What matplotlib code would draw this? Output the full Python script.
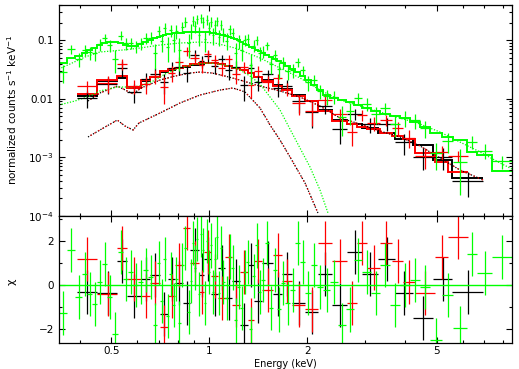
import numpy as np
import matplotlib
matplotlib.use("Agg")
import matplotlib.pyplot as plt
from matplotlib.ticker import FixedLocator, FixedFormatter, NullFormatter

# ---------------- data ----------------
# green data set
g_edges = [0.3446, 0.3654, 0.3867, 0.4063, 0.4209, 0.4361, 0.4519, 0.4683, 0.4851, 0.5026,
           0.5244, 0.5432, 0.5628, 0.5831, 0.6040, 0.6257, 0.6482, 0.6716, 0.6909, 0.7057,
           0.7208, 0.7362, 0.7520, 0.7681, 0.7845, 0.8013, 0.8184, 0.8359, 0.8541, 0.8725,
           0.8849, 0.8975, 0.9101, 0.9232, 0.9363, 0.9497, 0.9632, 0.9770, 0.9908, 1.0050,
           1.0193, 1.0337, 1.0486, 1.0634, 1.0787, 1.0939, 1.1174, 1.1415, 1.1660, 1.1910,
           1.2165, 1.2426, 1.2692, 1.2964, 1.3243, 1.3527, 1.3817, 1.4113, 1.4416, 1.4829,
           1.5255, 1.5692, 1.6143, 1.6607, 1.7084, 1.7700, 1.8337, 1.8998, 1.9679, 2.0532,
           2.1424, 2.2352, 2.3486, 2.4855, 2.6303, 2.7836, 2.9458, 3.1390, 3.3450, 3.5904,
           3.8539, 4.1365, 4.4400, 4.7643, 5.1858, 5.6081, 6.1894, 6.6438, 7.3858, 8.5112]
g_model = [0.0409, 0.0498, 0.0539, 0.0606, 0.0683, 0.0738, 0.0831, 0.0899, 0.0935, 0.0935,
           0.0899, 0.0831, 0.0799, 0.0799, 0.0864, 0.0935, 0.1012, 0.1095, 0.1138, 0.1184,
           0.1232, 0.1281, 0.1307, 0.1333, 0.1333, 0.1360, 0.1360, 0.1387, 0.1387, 0.1387,
           0.1387, 0.1414, 0.1414, 0.1414, 0.1414, 0.1387, 0.1387, 0.1387, 0.1387, 0.1360,
           0.1333, 0.1333, 0.1307, 0.1281, 0.1256, 0.1232, 0.1184, 0.1138, 0.1095, 0.1052,
           0.1012, 0.0935, 0.0882, 0.0831, 0.0783, 0.0738, 0.0696, 0.0656, 0.0606, 0.0561,
           0.0518, 0.0479, 0.0443, 0.0409, 0.0363, 0.0323, 0.0287, 0.0245, 0.0209, 0.0171,
           0.0141, 0.0116, 0.0103, 0.00953, 0.00881, 0.00782, 0.00695, 0.00618, 0.00549, 0.00507,
           0.00469, 0.00401, 0.00329, 0.00260, 0.00222, 0.00197, 0.00123, 0.00109, 0.000582]
g_chi = [-1.26, 1.6, -0.53, 0.5, -0.4, -0.85, 0.14, 0.95, -0.53, -2.2,
         1.5, 0.28, 0.6, 0.0, 0.15, 0.7, 0.38, -1.8, 1.0, -0.7,
         1.2, -1.4, 0.5, -0.9, 0.3, -1.7, 0.9, 1.7, -1.2, 0.2,
         1.9, 0.8, 2.1, -0.4, 2.3, 1.6, -0.8, 2.0, 0.6, 1.8,
         -0.3, 1.2, 2.2, -0.35, 1.7, 0.15, -0.6, 1.3, 0.8, -1.6,
         -0.1, -1.05, 0.6, 1.05, -2.0, 0.4, 1.8, -0.3, 0.24, 1.9,
         -1.05, 0.7, -1.1, 0.1, -0.8, -0.2, 1.9, 1.05, -0.35, 0.9,
         -0.1, -0.2, 0.15, -1.8, -1.1, 1.15, 0.6, -0.35, 0.9, -0.9,
         0.0, 0.25, -0.1, -2.5, -0.45, -1.95, 1.4, 0.55, 1.27]
g_frac = [0.24, 0.25, 0.23, 0.24, 0.23, 0.22, 0.23, 0.23, 0.22, 0.22,
          0.23, 0.23, 0.24, 0.24, 0.24, 0.24, 0.25, 0.25, 0.26, 0.27,
          0.27, 0.28, 0.27, 0.28, 0.28, 0.29, 0.28, 0.29, 0.29, 0.30,
          0.30, 0.30, 0.30, 0.31, 0.31, 0.30, 0.30, 0.31, 0.30, 0.30,
          0.29, 0.29, 0.29, 0.28, 0.28, 0.28, 0.27, 0.27, 0.27, 0.26,
          0.26, 0.26, 0.25, 0.26, 0.26, 0.26, 0.25, 0.25, 0.25, 0.24,
          0.24, 0.24, 0.24, 0.25, 0.24, 0.25, 0.25, 0.25, 0.26, 0.26,
          0.26, 0.27, 0.26, 0.27, 0.28, 0.28, 0.29, 0.29, 0.29, 0.30,
          0.30, 0.31, 0.31, 0.22, 0.32, 0.30, 0.36, 0.34, 0.36]

# black data set
k_edges = [0.3923, 0.4519, 0.5216, 0.5588, 0.6169, 0.6575, 0.7057, 0.7468, 0.7845, 0.8319,
           0.8725, 0.9298, 0.9632, 1.0121, 1.0634, 1.1174, 1.1740, 1.2426, 1.3149, 1.3720,
           1.4520, 1.5692, 1.6722, 1.7955, 1.9679, 2.1574, 2.3819, 2.6485, 2.9471, 3.3009,
           3.7204, 4.2247, 4.8675, 5.5682, 6.9343]
k_model = [0.0112, 0.0201, 0.0227, 0.0153, 0.0201, 0.0236, 0.0287, 0.0310, 0.0336, 0.0350,
           0.0378, 0.0393, 0.0409, 0.0409, 0.0393, 0.0363, 0.0336, 0.0310, 0.0276, 0.0236,
           0.0209, 0.0171, 0.0147, 0.0116, 0.00916, 0.00643, 0.00433, 0.00370, 0.00316, 0.00260,
           0.00205, 0.00162, 0.000897, 0.000441]
k_chi = [-0.3, -0.35, 1.1, -0.5, 0.3, 0.46, -1.3, 0.3, 0.1, -0.8,
         1.6, 0.46, 1.2, -0.4, 0.8, -0.6, 0.2, -1.8, 0.9, -0.7,
         1.0, -0.4, 0.5, -0.8, -1.2, 0.5, -0.9, 1.5, 0.5, 1.2,
         -0.35, -1.5, 0.3, -0.3]
k_frac = [0.30, 0.30, 0.45, 0.30, 0.30, 0.28, 0.25, 0.28, 0.28, 0.25,
          0.30, 0.27, 0.27, 0.25, 0.25, 0.26, 0.25, 0.25, 0.25, 0.25,
          0.25, 0.27, 0.27, 0.28, 0.30, 0.30, 0.32, 0.33, 0.33, 0.35,
          0.35, 0.25, 0.45, 0.40]

# red data set
r_edges = [0.3923, 0.4519, 0.5216, 0.5588, 0.6169, 0.6575, 0.7057, 0.7468, 0.7845, 0.8319,
           0.8725, 0.9298, 0.9632, 1.0121, 1.0634, 1.1174, 1.1740, 1.2426, 1.3149, 1.3720,
           1.4520, 1.5692, 1.6722, 1.7955, 1.9679, 2.1574, 2.3819, 2.6485, 2.8433, 3.0514,
           3.3450, 3.6416, 3.9372, 4.2855, 4.9363, 5.4137, 6.2337]
r_model = [0.01207, 0.0209, 0.0245, 0.0153, 0.0209, 0.0236, 0.0299, 0.0323, 0.0336, 0.0363,
           0.0393, 0.0409, 0.0417, 0.0417, 0.0401, 0.0363, 0.0336, 0.0310, 0.0276, 0.0236,
           0.0201, 0.0165, 0.0141, 0.0112, 0.00916, 0.00618, 0.00417, 0.00370, 0.00329, 0.00304,
           0.00260, 0.00231, 0.00205, 0.00118, 0.000829, 0.000559]
r_chi = [1.2, -0.4, 1.7, 0.3, -0.5, 0.1, -1.9, -0.5, 0.9, 2.6,
         1.0, -0.3, 1.5, 0.4, -0.6, 1.3, -0.9, 0.6, -1.6, 1.1,
         -0.2, 1.35, 0.2, -0.9, -1.1, 1.9, 1.1, -0.8, 1.9, 0.8,
         1.9, 1.1, 0.15, -0.35, 1.27, 2.2]
r_frac = [0.30, 0.28, 0.35, 0.30, 0.28, 0.27, 0.25, 0.27, 0.27, 0.30,
          0.27, 0.26, 0.26, 0.25, 0.25, 0.25, 0.25, 0.25, 0.24, 0.25,
          0.26, 0.26, 0.27, 0.28, 0.30, 0.30, 0.30, 0.32, 0.32, 0.33,
          0.35, 0.35, 0.35, 0.35, 0.40, 0.40]

# model components (dotted)
gc_e = [0.3446, 0.373, 0.415, 0.461, 0.5432, 0.612, 0.7057, 0.813, 0.936, 1.041, 1.1995,
        1.432, 1.649, 1.900, 2.188, 2.521, 2.904, 3.345, 3.854, 4.440, 5.114, 5.89, 6.79, 7.82, 8.51]
gc_v = [0.0323, 0.0393, 0.0518, 0.0631, 0.0683, 0.0738, 0.0831, 0.0899, 0.0935, 0.0899, 0.0738,
        0.0498, 0.0336, 0.0227, 0.0141, 0.00953, 0.00752, 0.00594, 0.00469, 0.00370, 0.00270,
        0.00182, 0.00123, 0.000797, 0.000629]
gd_e = [0.3446, 0.3867, 0.430, 0.461, 0.5216, 0.570, 0.612, 0.6716, 0.731, 0.813, 0.904,
        1.005, 1.1174, 1.2426, 1.334, 1.432, 1.537, 1.649, 1.7955, 2.039, 2.188, 2.316]
gd_v = [0.00782, 0.00916, 0.0112, 0.0136, 0.0159, 0.0159, 0.0165, 0.0201, 0.0265, 0.0336, 0.0393,
        0.0409, 0.0378, 0.0310, 0.0245, 0.0179, 0.0107, 0.00643, 0.00260, 0.000681, 0.000275, 0.000111]
ka_e = [0.424, 0.461, 0.5216, 0.5508, 0.5831, 0.608, 0.7057, 0.813, 0.936, 1.079, 1.182,
        1.287, 1.432, 1.537, 1.649, 1.770, 1.968, 2.157]
ka_v = [0.00222, 0.00292, 0.00433, 0.00342, 0.00292, 0.00385, 0.00571, 0.00847, 0.0116, 0.0141, 0.0153,
        0.0131, 0.00695, 0.00356, 0.00197, 0.00101, 0.000363, 0.000111]
kb_e = [0.424, 0.461, 0.5216, 0.5831, 0.6169, 0.7057, 0.7845, 0.8725, 0.936, 1.019, 1.1174,
        1.2426, 1.432, 1.649, 1.900, 2.188, 2.521, 2.904, 3.345, 3.854, 4.440, 5.114, 5.89, 6.934]
kb_v = [0.00916, 0.01256, 0.0165, 0.0121, 0.0153, 0.0209, 0.0245, 0.0276, 0.0287, 0.0276, 0.0245,
        0.0209, 0.0165, 0.0136, 0.0107, 0.00752, 0.00469, 0.00370, 0.00281, 0.00222, 0.00156,
        0.000971, 0.000605, 0.000408]

x_major = [0.5, 1, 2, 5]
x_major_labels = ["0.5", "1", "2", "5"]
x_minor = [0.4, 0.6, 0.7, 0.8, 0.9, 3, 4, 6, 7, 8]

GREEN = "#00ff00"
RED = "#ff0000"
BLACK = "#000000"

# ---------------- figure ----------------
plt.rcParams["font.family"] = ["DejaVu Sans"]
plt.rcParams["mathtext.fontset"] = "dejavusans"
W, H = 519, 369
fig = plt.figure(figsize=(W / 100, H / 100), dpi=100)
xl, xr = 58.7 / W, 512 / W
ax1 = fig.add_axes([xl, 1 - 215.7 / H, xr - xl, (215.7 - 5) / H])
ax2 = fig.add_axes([xl, 1 - 343 / H, xr - xl, (343 - 215.7) / H], sharex=ax1)

def draw_set(edges, model, chi, frac, color):
    edges = np.asarray(edges)
    model = np.asarray(model)
    chi = np.asarray(chi)
    frac = np.asarray(frac)
    lo, hi = edges[:-1], edges[1:]
    xc = 0.5 * (lo + hi)
    err = frac * model
    data = model + chi * err
    xerr = [xc - lo, hi - xc]
    ax1.errorbar(xc, data, xerr=xerr, yerr=err, fmt="none", ecolor=color,
                 elinewidth=0.9, capsize=0)
    ax1.stairs(model, edges, color=color, lw=1.4, baseline=None)
    ax2.errorbar(xc, chi, xerr=xerr, yerr=np.ones_like(chi), fmt="none",
                 ecolor=color, elinewidth=0.9, capsize=0)

dot = (0, (1, 1.3))
ax1.plot(ka_e, ka_v, color=BLACK, lw=0.9, ls=dot)
ax1.plot(kb_e, kb_v, color=BLACK, lw=0.9, ls=dot)
ax1.plot(ka_e, ka_v, color=RED, lw=0.9, ls=(1.2, (1, 2.6)))
ax1.plot(kb_e, kb_v, color=RED, lw=0.9, ls=(1.2, (1, 2.6)))
ax1.plot(gc_e, gc_v, color=GREEN, lw=0.9, ls=dot)
ax1.plot(gd_e, gd_v, color=GREEN, lw=0.9, ls=dot)

draw_set(k_edges, k_model, k_chi, k_frac, BLACK)
draw_set(r_edges, r_model, r_chi, r_frac, RED)
draw_set(g_edges, g_model, g_chi, g_frac, GREEN)

ax2.axhline(0, color=GREEN, lw=1.0)

ax1.set_xscale("log")
ax1.set_yscale("log")
ax1.set_xlim(0.3446, 8.511)
ax1.set_ylim(1e-4, 0.402)
ax2.set_ylim(-2.62, 3.15)

for ax in (ax1, ax2):
    ax.xaxis.set_major_locator(FixedLocator(x_major))
    ax.xaxis.set_minor_locator(FixedLocator(x_minor))
    ax.xaxis.set_minor_formatter(NullFormatter())
    ax.tick_params(which="both", direction="in", top=True, right=True,
                   width=0.8, labelsize=7.5, colors="black")
    ax.tick_params(which="major", length=4.0, pad=3.5)
    ax.tick_params(which="minor", length=2.2)
    for s in ax.spines.values():
        s.set_linewidth(0.9)

ax1.xaxis.set_major_formatter(NullFormatter())
ax2.xaxis.set_major_formatter(FixedFormatter(x_major_labels))
ax2.tick_params(axis="x", which="major", pad=2.5)

ax1.yaxis.set_major_locator(FixedLocator([1e-4, 1e-3, 1e-2, 1e-1]))
ax1.yaxis.set_major_formatter(FixedFormatter(["$10^{-4}$", "$10^{-3}$", "0.01", "0.1"]))
yminor = [m * d for d in (1e-4, 1e-3, 1e-2, 1e-1) for m in range(2, 10) if m * d < 0.402]
ax1.yaxis.set_minor_locator(FixedLocator(yminor))
ax1.yaxis.set_minor_formatter(NullFormatter())

ax2.yaxis.set_major_locator(FixedLocator([-2, 0, 2]))
ax2.yaxis.set_major_formatter(FixedFormatter(["\u22122", "0", "2"]))
ax2.yaxis.set_minor_locator(FixedLocator([-1, 1, 3]))
ax2.yaxis.set_minor_formatter(NullFormatter())

fig.text(12 / W, 1 - 110 / H, "normalized counts s$^{-1}$ keV$^{-1}$", rotation=90,
         ha="center", va="center", fontsize=7.5)
fig.text(12 / W, 1 - 282 / H, "\u03c7", rotation=90, ha="center", va="center", fontsize=8)
fig.text(285 / W, 1 - 364 / H, "Energy (keV)", ha="center", va="center", fontsize=7)

fig.savefig("out.png", dpi=100)
